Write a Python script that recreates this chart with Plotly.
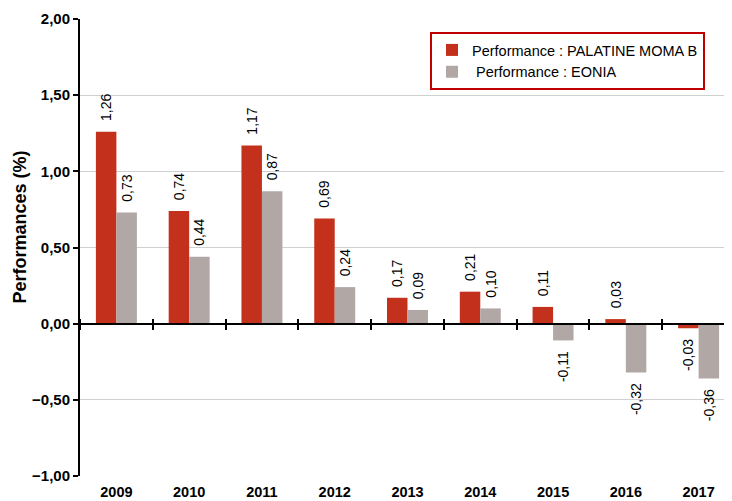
import plotly.graph_objects as go

years = ["2009", "2010", "2011", "2012", "2013", "2014", "2015", "2016", "2017"]
fund = [1.26, 0.74, 1.17, 0.69, 0.17, 0.21, 0.11, 0.03, -0.03]
eonia = [0.73, 0.44, 0.87, 0.24, 0.09, 0.10, -0.11, -0.32, -0.36]
name_fund = "Performance : PALATINE MOMA B"
name_eonia = " Performance : EONIA"
y_title = "Performances (%)"
y_ticks = [-1.0, -0.5, 0.0, 0.5, 1.0, 1.5, 2.0]

RED = "#C3301B"
GRAY = "#B1A8A6"
FONT = "Liberation Sans, Arial, sans-serif"
PAD = "\u00a0\u00a0"


def fr(v):
    s = f"{v:.2f}".replace(".", ",")
    return PAD + s if v >= 0 else s + PAD


fig = go.Figure()
for vals, name, col in [(fund, name_fund, RED), (eonia, name_eonia, GRAY)]:
    fig.add_trace(go.Bar(
        x=years, y=vals, name=name, marker=dict(color=col, line=dict(width=0)),
        text=[fr(v) for v in vals], textposition="outside", textangle=-90,
        constraintext="none",
        textfont=dict(family=FONT, size=14, color="#000000"),
        cliponaxis=False,
    ))

# helper traces for the zero-line axes
for ax in ["x2", "x3"]:
    fig.add_trace(go.Scatter(x=years, y=[None] * len(years), xaxis=ax, yaxis="y",
                             showlegend=False, hoverinfo="skip", mode="markers"))

xr = [-0.5, 8.5]
zero_pos = (0 - y_ticks[0]) / (y_ticks[-1] - y_ticks[0])
fig.update_layout(
    width=732, height=501,
    margin=dict(l=72, r=5, t=11, b=33, autoexpand=False),
    paper_bgcolor="white", plot_bgcolor="white",
    barmode="group", bargap=0.437, bargroupgap=0,
    separators=",.",
    font=dict(family=FONT, color="#000000"),
    xaxis=dict(type="category", range=xr, showline=False, ticks="", showgrid=False,
               automargin=False, ticklabelstandoff=5,
               tickfont=dict(family=FONT, size=14.5, color="#000000", weight="bold")),
    xaxis2=dict(type="category", range=xr, overlaying="x", anchor="free", position=zero_pos,
                side="bottom", showline=True, linecolor="#000000", linewidth=2,
                tickson="boundaries", ticks="outside", ticklen=5, tickwidth=2, tickcolor="#000000",
                showticklabels=False, showgrid=False, automargin=False),
    xaxis3=dict(type="category", range=xr, overlaying="x", anchor="free", position=zero_pos,
                side="top", showline=False,
                tickson="boundaries", ticks="outside", ticklen=5, tickwidth=2, tickcolor="#000000",
                showticklabels=False, showgrid=False, automargin=False),
    yaxis=dict(range=[y_ticks[0], y_ticks[-1]], tickvals=y_ticks, tickformat=".2f",
               showline=True, linecolor="#000000", linewidth=2,
               ticks="outside", ticklen=5, tickwidth=2, tickcolor="#000000",
               showgrid=True, gridcolor="#D0D0D0", gridwidth=1, zeroline=False,
               automargin=False,
               tickfont=dict(family=FONT, size=15, color="#000000", weight="bold")),
    annotations=[dict(text=y_title, textangle=-90, showarrow=False,
                      xref="paper", yref="paper", x=(19.5 - 80) / 655, y=(476 - 227) / 457,
                      xanchor="center", yanchor="middle",
                      font=dict(family=FONT, size=18, color="#000000", weight="bold"))],
    legend=dict(x=(430 - 80) / 655, y=(476 - 32) / 457, xanchor="left", yanchor="top",
                bordercolor="#C00000", borderwidth=2, bgcolor="white",
                font=dict(family=FONT, size=14.5, color="#000000"),
                tracegroupgap=0, itemwidth=30, traceorder="normal"),
    showlegend=True,
)

fig.write_html("out.html")
